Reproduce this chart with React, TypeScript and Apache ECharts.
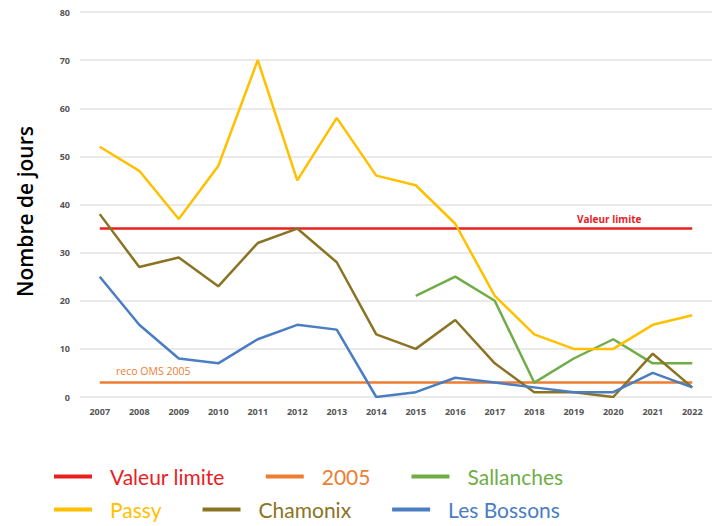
import React, { useEffect, useRef } from "react";
import * as echarts from "echarts";

const years = ["2007","2008","2009","2010","2011","2012","2013","2014","2015","2016","2017","2018","2019","2020","2021","2022"];
const valeurLimite = [35,35,35,35,35,35,35,35,35,35,35,35,35,35,35,35];
const recoOms2005 = [3,3,3,3,3,3,3,3,3,3,3,3,3,3,3,3];
const sallanches = [null,null,null,null,null,null,null,null,21,25,20,3,8,12,7,7];
const passy = [52,47,37,48,70,45,58,46,44,36,21,13,10,10,15,17];
const chamonix = [38,27,29,23,32,35,28,13,10,16,7,1,1,0,9,2];
const lesBossons = [25,15,8,7,12,15,14,0,1,4,3,2,1,1,5,2];
const yTicks = { min: 0, max: 80, interval: 10 };

const COLORS = {
  limite: "#E8211F",
  oms: "#ED7D31",
  sallanches: "#70AD47",
  passy: "#FFC000",
  chamonix: "#8A7424",
  bossons: "#4A7DC1",
};

const LEGEND_FONT = "Lato, sans-serif";
const TICK_FONT = "'Open Sans', Lato, sans-serif";

export default function App() {
  const ref = useRef<HTMLDivElement>(null);
  useEffect(() => {
    if (!ref.current) return;
    const chart = echarts.init(ref.current, undefined, { renderer: "svg" });
    const line = (name: string, data: any[], color: string, extra: any = {}) => ({
      name,
      type: "line",
      data,
      symbol: "none",
      smooth: false,
      connectNulls: false,
      lineStyle: { color, width: 2.5 },
      itemStyle: { color },
      ...extra,
    });
    const refExtra = { symbol: "circle", symbolSize: 0, showSymbol: true, emphasis: { disabled: true } };
    const limitData = valeurLimite.map((v, i) =>
      i === 13
        ? { value: v, label: { show: true, position: "top", distance: 5, offset: [-4, 0], formatter: "Valeur limite", color: COLORS.limite, fontSize: 10, fontWeight: "bold", fontFamily: TICK_FONT } }
        : v
    );
    const omsData = recoOms2005.map((v, i) =>
      i === 1
        ? { value: v, label: { show: true, position: "top", distance: 6, offset: [14, 0], formatter: "reco OMS 2005", color: COLORS.oms, fontSize: 10.5, fontFamily: TICK_FONT } }
        : v
    );
    const legendItem = (name: string, color: string) => ({ name, textStyle: { color } });
    const legendBase = {
      left: 54,
      padding: 0,
      icon: "rect",
      itemWidth: 38,
      itemHeight: 4,
      itemGap: 41,
      textStyle: { fontSize: 21, fontFamily: LEGEND_FONT, padding: [0, 0, 0, 13] },
    };
    chart.setOption({
      animation: false,
      backgroundColor: "#ffffff",
      grid: { left: 80, right: 6, top: 12, bottom: 129, containLabel: false },
      legend: [
        {
          ...legendBase,
          top: 466,
          data: [
            legendItem("Valeur limite", COLORS.limite),
            legendItem("2005", COLORS.oms),
            legendItem("Sallanches", COLORS.sallanches),
          ],
        },
        {
          ...legendBase,
          top: 499,
          data: [
            legendItem("Passy", COLORS.passy),
            legendItem("Chamonix", COLORS.chamonix),
            legendItem("Les Bossons", COLORS.bossons),
          ],
        },
      ],
      xAxis: {
        type: "category",
        data: years,
        boundaryGap: true,
        axisLine: { show: false },
        axisTick: { show: false },
        axisLabel: { fontSize: 9, fontWeight: "bold", color: "#555555", fontFamily: TICK_FONT, margin: 10 },
      },
      yAxis: {
        type: "value",
        min: yTicks.min,
        max: yTicks.max,
        interval: yTicks.interval,
        name: "Nombre de jours",
        nameLocation: "middle",
        nameGap: 45,
        nameTextStyle: { fontSize: 21, fontWeight: 600, color: "#000000", fontFamily: TICK_FONT, padding: [0, 14, 0, 0] },
        axisLine: { show: false },
        axisTick: { show: false },
        axisLabel: { fontSize: 9, fontWeight: "bold", color: "#555555", fontFamily: TICK_FONT, margin: 10 },
        splitLine: { lineStyle: { color: "#E3E3E3", width: 1.5 } },
      },
      series: [
        line("Valeur limite", limitData, COLORS.limite, refExtra),
        line("2005", omsData, COLORS.oms, refExtra),
        line("Sallanches", sallanches, COLORS.sallanches),
        line("Passy", passy, COLORS.passy),
        line("Chamonix", chamonix, COLORS.chamonix),
        line("Les Bossons", lesBossons, COLORS.bossons),
      ],
    });
    return () => chart.dispose();
  }, []);
  return (
    <div
      ref={ref}
      style={{ position: "fixed", left: 0, top: 0, width: 718, height: 526, background: "#fff" }}
    />
  );
}
